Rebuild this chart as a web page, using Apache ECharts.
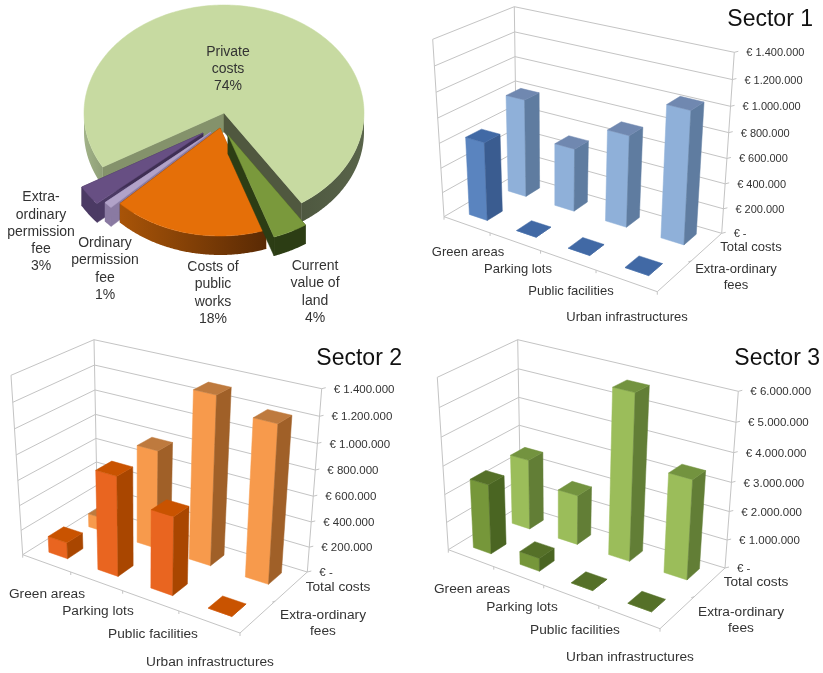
<!DOCTYPE html>
<html><head><meta charset="utf-8">
<style>html,body{margin:0;padding:0;background:#fff}#c{width:823px;height:673px}</style>
<script src="https://cdn.jsdelivr.net/npm/echarts@6/dist/echarts.min.js"></script>
</head><body><div id="c"></div>
<script>
// ---- data ----
const categories = ['Green areas', 'Parking lots', 'Public facilities', 'Urban infrastructures'];
const rowNames = ['Total costs', 'Extra-ordinary\nfees'];
const s1Total = [800000, 510000, 730000, 1035000];
const s1Extra = [630000, 0, 0, 0];
const s2Total = [110000, 785000, 1310000, 1210000];
const s2Extra = [130000, 775000, 600000, 0];
const s3Total = [2500000, 1750000, 5700000, 3400000];
const s3Extra = [2450000, 450000, 0, 0];
const ticks12 = ['€ -', '€ 200.000', '€ 400.000', '€ 600.000', '€ 800.000', '€ 1.000.000', '€ 1.200.000', '€ 1.400.000'];
const ticks3 = ['€ -', '€ 1.000.000', '€ 2.000.000', '€ 3.000.000', '€ 4.000.000', '€ 5.000.000', '€ 6.000.000'];
const pieNames = ['Private\ncosts', 'Current\nvalue of\nland', 'Costs of\npublic\nworks', 'Ordinary\npermission\nfee', 'Extra-\nordinary\npermission\nfee'];
const pieShares = [74, 4, 18, 1, 3];

// ---- layout & style ----
const FONT = '"Liberation Sans", Arial, sans-serif';
const TXT = '#333';
const pieGeom = { cx: 224, cy: 111, a: 140, b: 108, thick: 19, start: 150 };
const pieOffset = [[0, 2], [4, 24], [-4, 17], [-13, 21], [-21, 22]];
const pieDraw = [0, 4, 3, 2, 1];
const pieLabel = [[228, 69], [315, 292], [213, 293], [105, 269], [41, 232]];
const pieStyle = [
  { top: '#C7DAA1', wallA: '#84926B', wallB: '#50583F', left: ['#A2B389', '#8E9E76'], right: ['#4E5840', '#59644A'] },
  { top: '#7A993C', wallA: '#2C3D14', wallB: '#2C3D14', left: ['#2C3D14', '#2C3D14'] },
  { top: '#E56F08', wallA: '#A85408', wallB: '#5A2A04', left: ['#A85408', '#5A2A04'] },
  { top: '#B1A2C8', wallA: '#8A7AA2', wallB: '#8A7AA2', left: ['#8A7AA2', '#8A7AA2'] },
  { top: '#674F83', wallA: '#4B3A64', wallB: '#3F2F54', left: ['#4B3A64', '#4B3A64'] }
];
const sectors = [
  { title: 'Sector 1', total: s1Total, extra: s1Extra, ticks: ticks12, step: 200000,
    tickFont: 11, catFont: 13,
    floor: [[444, 216.7], [657.3, 291.7], [721.7, 233.3], [516.7, 174]],
    roof: [[432.7, 39.3], [664, 95], [734.3, 52.3], [514.3, 6.7]],
    titlePos: [813, 18],
    cat: [[468, 252], [518, 269], [571, 291], [627, 317]],
    row: [[751, 247], [736, 277]],
    dark: { f: '#5A84BF', s: '#3A5C90', t: '#4169A5' },
    light: { f: '#8FB0D9', s: '#5F7CA0', t: '#7088B0' } },
  { title: 'Sector 2', total: s2Total, extra: s2Extra, ticks: ticks12, step: 200000,
    tickFont: 11.5, catFont: 13.7,
    floor: [[22.7, 554.7], [240, 633], [307.3, 572], [97.3, 508]],
    roof: [[11, 375.3], [248, 433], [321.7, 388.7], [94, 339.7]],
    titlePos: [402, 357],
    cat: [[47, 594], [98, 611], [153, 634], [210, 662]],
    row: [[338, 587], [323, 623]],
    dark: { f: '#E96520', s: '#A94600', t: '#C95300' },
    light: { f: '#F79A4C', s: '#A06028', t: '#BE7A3E' } },
  { title: 'Sector 3', total: s3Total, extra: s3Extra, ticks: ticks3, step: 1000000,
    tickFont: 11.5, catFont: 13.7,
    floor: [[448.3, 549.7], [660, 628.7], [725, 568], [520.7, 505.7]],
    roof: [[437.3, 377.3], [667.3, 432], [738.3, 391.3], [517.7, 339.7]],
    titlePos: [820, 357],
    cat: [[472, 589], [522, 607], [575, 630], [630, 657]],
    row: [[756, 582], [741, 620]],
    dark: { f: '#76973A', s: '#4A6522', t: '#557028' },
    light: { f: '#9BBD5A', s: '#627E36', t: '#73933F' } }
];
const BAR_U = 0.39, BAR_V = 0.40, PERSP = -0.06, GRID = '#C4C4C4', ROW_BACK = 0.78, ROW_FRONT = 0.25;

// ---- projection helpers ----
function homography(q) {
  const [[x0, y0], [x1, y1], [x2, y2], [x3, y3]] = q;
  const dx1 = x1 - x2, dx2 = x3 - x2, sx = x0 - x1 + x2 - x3;
  const dy1 = y1 - y2, dy2 = y3 - y2, sy = y0 - y1 + y2 - y3;
  const den = dx1 * dy2 - dx2 * dy1;
  const g = (sx * dy2 - dx2 * sy) / den, h = (dx1 * sy - sx * dy1) / den;
  const a = x1 - x0 + g * x1, b = x3 - x0 + h * x3, d = y1 - y0 + g * y1, e = y3 - y0 + h * y3;
  return (u, v) => { const w = g * u + h * v + 1; return [(a * u + b * v + x0) / w, (d * u + e * v + y0) / w]; };
}
function projector(sec) {
  const F = homography(sec.floor);
  const V = sec.roof.map((r, i) => [r[0] - sec.floor[i][0], r[1] - sec.floor[i][1]]);
  const vert = (u, v, k) => (1 - v) * ((1 - u) * V[0][k] + u * V[1][k]) + v * ((1 - u) * V[3][k] + u * V[2][k]);
  return (u, v, h) => {
    const p = F(u, v), t = h * (1 + PERSP) / (1 + PERSP * h);
    return [p[0] + vert(u, v, 0) * t, p[1] + vert(u, v, 1) * t];
  };
}
const poly = (pts, fill, z2) => ({ type: 'polygon', z2: z2 || 0, shape: { points: pts }, style: { fill, stroke: fill, lineWidth: 0.5 } });
const line = (pts) => ({ type: 'polyline', shape: { points: pts }, style: { fill: null, stroke: GRID, lineWidth: 1 } });
const text = (x, y, str, size, align, color) => ({ type: 'text', x, y, style: { text: str, font: size + 'px ' + FONT, fill: color || TXT, align: align || 'center', verticalAlign: 'middle', lineHeight: Math.round(size * 1.2) } });

// ---- series builders ----
function frameSeries(sec, gi) {
  const P = projector(sec);
  return {
    type: 'custom', xAxisIndex: gi, yAxisIndex: gi, z: 1, silent: true,
    data: sec.ticks.map((t, i) => [0, i * sec.step]), encode: { x: 0, y: 1 },
    renderItem(params, api) {
      const cs = params.coordSys, i = params.dataIndex;
      const h = (cs.y + cs.height - api.coord([0, api.value(1)])[1]) / cs.height;
      const a = P(0, 0, h), b = P(0, 1, h), c = P(1, 1, h);
      const kids = [line([a, b, c]), line([c, [c[0] + 4, c[1] - 1]]), text(c[0] + 12, c[1] + 1, sec.ticks[i], sec.tickFont, 'left')];
      if (i === 0) {
        kids.push(line([P(0, 0, 0), P(0, 0, 1)]), line([P(0, 1, 0), P(0, 1, 1)]), line([P(1, 1, 0), P(1, 1, 1)]));
        const F = P(1, 0, 0);
        kids.push(line([a, F, c]));
        [0, .25, .5, .75, 1].forEach(u => { const p = P(u, 0, 0); kids.push(line([p, [p[0], p[1] + 3]])); });
        [.5].forEach(v => { const p = P(1, v, 0); kids.push(line([p, [p[0] - 3, p[1] + 1]])); });
      }
      return { type: 'group', children: kids };
    }
  };
}
function barSeries(sec, gi, values, vc, col) {
  const P = projector(sec);
  return {
    type: 'custom', xAxisIndex: gi, yAxisIndex: gi, z: 2, silent: true,
    data: values.map((v, i) => [i, v]), encode: { x: 0, y: 1 },
    renderItem(params, api) {
      const cs = params.coordSys;
      const pt = api.coord([api.value(0), api.value(1)]);
      const u = (pt[0] - cs.x) / cs.width, h = (cs.y + cs.height - pt[1]) / cs.height;
      const bw = api.size([1, 0])[0] / cs.width * BAR_U, dv = 0.5 * BAR_V;
      const u0 = u - bw / 2, u1 = u + bw / 2, v0 = vc - dv / 2, v1 = vc + dv / 2;
      const a = P(u0, v0, 0), b = P(u1, v0, 0), c = P(u1, v1, 0);
      const A = P(u0, v0, h), B = P(u1, v0, h), C = P(u1, v1, h), D = P(u0, v1, h);
      return { type: 'group', children: [poly([a, b, B, A], col.f), poly([b, c, C, B], col.s), poly([A, B, C, D], col.t)] };
    }
  };
}
function labelSeries(sec, gi) {
  const items = categories.map((s, i) => ({ s, p: sec.cat[i] })).concat(rowNames.map((s, i) => ({ s, p: sec.row[i] })));
  return {
    type: 'custom', coordinateSystem: 'none', z: 3, silent: true, data: items.map((_, i) => [i]),
    renderItem(params) { const it = items[params.dataIndex]; return text(it.p[0], it.p[1], it.s, sec.catFont); }
  };
}
// ---- pie ----
const pieTotal = pieShares.reduce((a, b) => a + b, 0);
let acc = pieGeom.start;
const pieAngles = pieShares.map(s => { const a0 = acc; acc += s / pieTotal * 360; return [a0, acc]; });
function pieSeries() {
  const G = pieGeom, rad = d => d * Math.PI / 180;
  return {
    type: 'custom', coordinateSystem: 'none', z: 2, silent: true, data: pieShares.map((s, i) => [i, s]),
    renderItem(params, api) {
      const i = params.dataIndex, st = pieStyle[i], o = pieOffset[i], [a0, a1] = pieAngles[i];
      const z = pieDraw[i] * 10;
      const ox = G.cx + o[0], oy = G.cy + o[1];
      const E = (d, dn) => [ox + G.a * Math.cos(rad(d)), oy + G.b * Math.sin(rad(d)) + (dn || 0)];
      const kids = [];
      const apex = [ox, oy], apexD = [ox, oy + G.thick];
      kids.push(poly([apex, E(a0), E(a0, G.thick), apexD], st.wallA, z));
      kids.push(poly([apex, E(a1), E(a1, G.thick), apexD], st.wallB, z));
      // outer wall, only the part turned towards the viewer
      for (let k = 0; k < 3; k++) {
        const lo = Math.max(a0, k * 360), hi = Math.min(a1, k * 360 + 180);
        if (hi <= lo) continue;
        const top = [], bot = [];
        for (let d = lo; d < hi; d += 0.5) { top.push(E(d)); bot.unshift(E(d, G.thick)); }
        top.push(E(hi)); bot.unshift(E(hi, G.thick));
        const cols = (k > 0 && st.right) ? st.right : st.left;
        const grad = { type: 'linear', x: 0, y: 0, x2: 1, y2: 0, colorStops: [{ offset: 0, color: cols[0] }, { offset: 1, color: cols[1] }] };
        const w = poly(top.concat(bot), grad, z + 1);
        w.style.stroke = null;
        kids.push(w);
      }
      const face = [apex];
      for (let d = a0; d < a1; d += 1) face.push(E(d));
      face.push(E(a1));
      kids.push(poly(face, st.top, z + 2));
      const lb = pieLabel[i];
      const t = text(lb[0], lb[1], pieNames[i] + '\n' + pieShares[i] + '%', 14);
      t.z2 = 100; t.style.lineHeight = 17.3;
      kids.push(t);
      return { type: 'group', children: kids };
    }
  };
}

// ---- option ----
const series = [pieSeries()];
const grids = [], xAxes = [], yAxes = [], titles = [];
sectors.forEach((sec, gi) => {
  const r = sec.floor[2], rt = sec.roof[2];
  grids.push({ left: sec.floor[0][0], top: rt[1], width: r[0] - sec.floor[0][0], height: r[1] - rt[1], show: false });
  xAxes.push({ type: 'category', gridIndex: gi, data: categories, show: false });
  yAxes.push({ type: 'value', gridIndex: gi, min: 0, max: (sec.ticks.length - 1) * sec.step, interval: sec.step, show: false });
  titles.push({ text: sec.title, right: 823 - sec.titlePos[0], top: sec.titlePos[1] - 10, textStyle: { fontFamily: FONT, fontSize: 23, fontWeight: 'normal', color: '#111' }, padding: 0 });
  series.push(frameSeries(sec, gi));
  series.push(barSeries(sec, gi, sec.total, ROW_BACK, sec.light));
  series.push(barSeries(sec, gi, sec.extra, ROW_FRONT, sec.dark));
  series.push(labelSeries(sec, gi));
});
const chart = echarts.init(document.getElementById('c'), null, { renderer: 'canvas', width: 823, height: 673 });
chart.setOption({ animation: false, backgroundColor: '#fff', title: titles, grid: grids, xAxis: xAxes, yAxis: yAxes, series });
</script></body></html>
